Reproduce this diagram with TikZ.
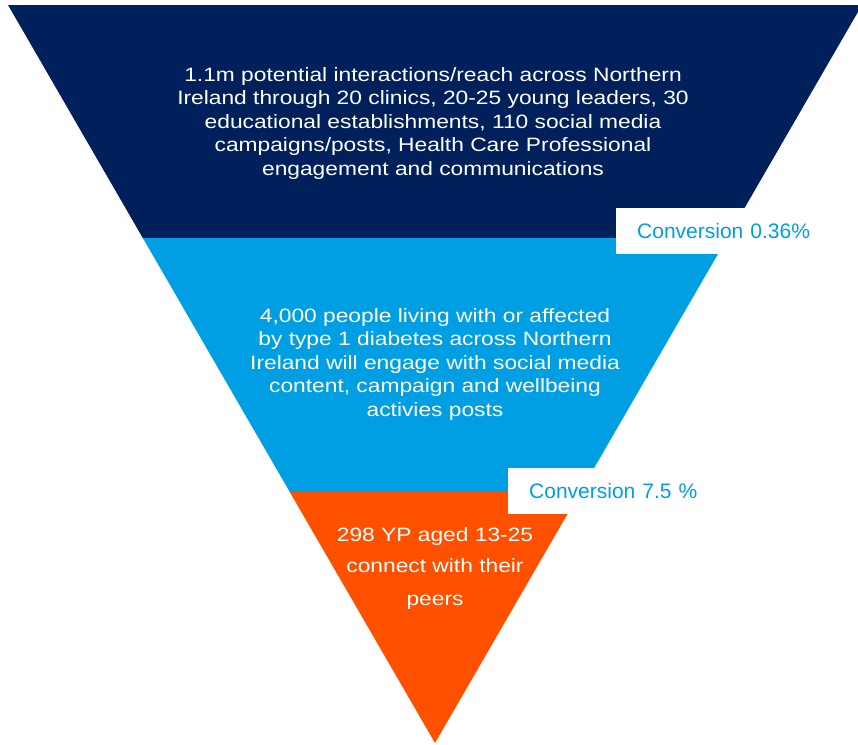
\documentclass[tikz,border=0pt]{standalone}
\usepackage{fontspec}
\setmainfont{Liberation Sans}
\newfontfamily\widefont[FakeStretch=1.18]{Liberation Sans}
\usepackage{tikz}
\usetikzlibrary{positioning}
\definecolor{navy}{HTML}{00205C}
\definecolor{skyblue}{HTML}{009FE3}
\definecolor{flame}{HTML}{FF5000}

\begin{document}
\begin{tikzpicture}[
  x=1pt, y=-1pt,
  stage/.style={text=white, align=center, font=\widefont\fontsize{19.3}{23.5}\selectfont},
  conv/.style={fill=white, anchor=west, text=skyblue, align=left, minimum height=46pt,
    inner xsep=21pt, text width=185pt, font=\fontsize{21}{24}\selectfont}
]
\useasboundingbox (0,0) rectangle (858,744);

% Funnel bands
\begin{scope}
  \clip (0,0) rectangle (858,744);
  \clip (8,5) -- (862,5) -- (435,743) -- cycle;
  \fill[navy] (0,5) rectangle (870,238);
  \fill[skyblue] (0,238) rectangle (870,492);
  \fill[flame] (0,492) rectangle (870,750);
\end{scope}

% Stage texts
\node[stage] (reach) at (433,123.5) {1.1m potential interactions/reach across Northern\\
  Ireland through 20 clinics, 20-25 young leaders, 30\\
  educational establishments, 110 social media\\
  campaigns/posts, Health Care Professional\\
  engagement and communications};
\node[stage] (engage) at (435,364.5) {4,000 people living with or affected\\
  by type 1 diabetes across Northern\\
  Ireland will engage with social media\\
  content, campaign and wellbeing\\
  activies posts};
\node[stage, font=\widefont\fontsize{19.3}{32}\selectfont] (peers) at (435,568) {298 YP aged 13-25\\
  connect with their\\
  peers};

% Conversion rates
\node[conv] (conv1) at (616,231) {Conversion 0.36\%};
\node[conv] (conv2) at (508,490.5) {Conversion 7.5 \%};

\end{tikzpicture}
\end{document}
